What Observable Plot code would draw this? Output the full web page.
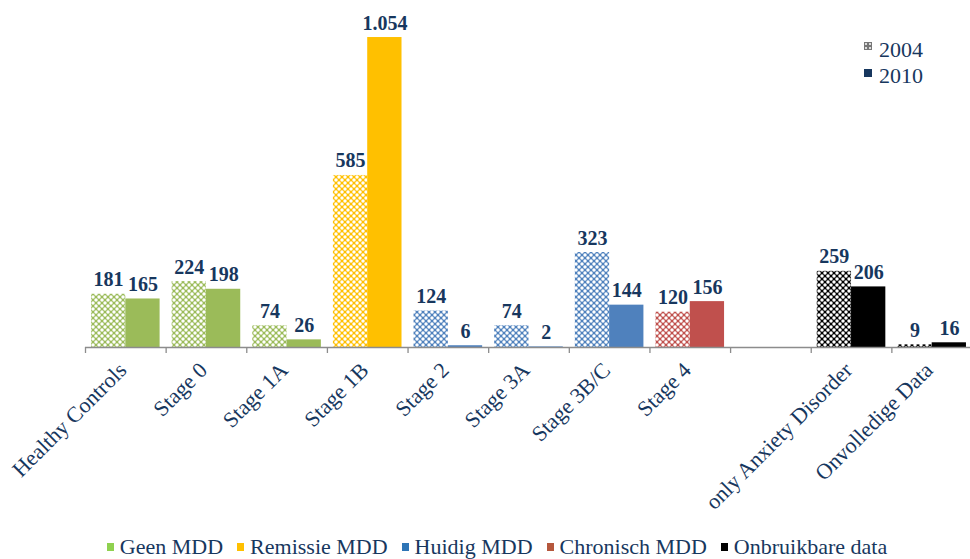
<!DOCTYPE html>
<html><head><meta charset="utf-8">
<script src="https://cdn.jsdelivr.net/npm/d3@7"></script>
<script src="https://cdn.jsdelivr.net/npm/@observablehq/plot@0.6"></script>
<style>
body{margin:0;background:#fff;font-family:"Liberation Serif",serif;}
#wrap{position:relative;width:970px;height:559px;overflow:hidden;}
#legend{position:absolute;left:12px;top:534px;width:970px;height:26px;display:flex;justify-content:center;align-items:center;gap:14px;font-size:22px;color:#17375e;}
#legend .it{display:flex;align-items:center;gap:6px;white-space:nowrap;}
#legend .mk{display:inline-block;width:7px;height:8px;}
#years{position:absolute;left:864px;top:37px;font-size:22px;color:#17375e;line-height:26px;}
#years .row{display:flex;align-items:center;gap:7px;}
</style></head>
<body><div id="wrap"><div id="chart"></div><div id="years"></div><div id="legend"></div></div>
<script>
const categories = ["Healthy Controls","Stage 0","Stage 1A","Stage 1B","Stage 2","Stage 3A","Stage 3B/C","Stage 4","","only Anxiety Disorder","Onvolledige Data"];
const values2004 = [181,224,74,585,124,74,323,120,null,259,9];
const values2010 = [165,198,26,1054,6,2,144,156,null,206,16];
const groups = ["Geen MDD","Geen MDD","Geen MDD","Remissie MDD","Huidig MDD","Huidig MDD","Huidig MDD","Chronisch MDD",null,"Onbruikbare data","Onbruikbare data"];
const groupNames = ["Geen MDD","Remissie MDD","Huidig MDD","Chronisch MDD","Onbruikbare data"];
const groupColors = ["#9BBB59","#FFC000","#4F81BD","#C0504D","#000000"];
const legendColors = ["#8FD14F","#FFC000","#2E75B6","#B5573C","#000000"];
const years = ["2004","2010"];

const nl = d3.formatLocale({decimal:",",thousands:".",grouping:[3],currency:["€",""]});
const fmt = nl.format(",");
const rows = categories.map((c,i)=>({cat:c, v2004:values2004[i], v2010:values2010[i], g:groupNames.indexOf(groups[i])}));
const navy = "#17375e";
const bw = 887/11;

const chart = Plot.plot({
  width:970, height:530, marginLeft:85, marginRight:0, marginTop:0, marginBottom:0,
  x:{domain:categories, range:[85,972], padding:0, round:false, axis:null},
  y:{domain:[0,1100], range:[347,23.5], axis:null},
  color:{type:"identity"},
  style:{fontFamily:"Liberation Serif, serif"},
  marks:[
    Plot.barY(rows.filter(d=>d.v2004!=null), {x:"cat", y:"v2004", fill:d=>`url(#pat${d.g})`, insetLeft:6, insetRight:bw-6-34.3}),
    Plot.barY(rows.filter(d=>d.v2010!=null), {x:"cat", y:"v2010", fill:d=>groupColors[d.g], insetLeft:6+34.3, insetRight:bw-6-2*34.3}),
    Plot.ruleY([0], {stroke:"#8c8c8c", strokeWidth:1.3}),
    Plot.ruleX(categories, {x:d=>d, y1:0, y2:0, dx:-bw/2, insetTop:6, stroke:"#8c8c8c", strokeWidth:1.3}),
    Plot.text(rows.filter(d=>d.v2004!=null), {x:"cat", y:"v2004", text:d=>fmt(d.v2004), dx:-17.2, dy:-8, lineAnchor:"bottom", fontSize:20, fontWeight:"bold", fill:navy}),
    Plot.text(rows.filter(d=>d.v2010!=null), {x:"cat", y:"v2010", text:d=>fmt(d.v2010), dx:17.2, dy:-8, lineAnchor:"bottom", fontSize:20, fontWeight:"bold", fill:navy}),
    Plot.text(categories, {x:d=>d, y:()=>0, text:d=>d, rotate:-45, textAnchor:"end", lineAnchor:"top", dx:-9, dy:13, fontSize:22, fill:navy})
  ]
});
const svg = chart.tagName.toLowerCase()==="svg" ? chart : chart.querySelector("svg");
const defs = d3.select(svg).insert("defs", ":first-child");
groupColors.forEach((c,i)=>{
  const p = defs.append("pattern").attr("id","pat"+i).attr("patternUnits","userSpaceOnUse").attr("width",6).attr("height",6);
  p.append("rect").attr("width",6).attr("height",6).attr("fill",c);
  [[0,0],[6,0],[0,6],[6,6],[3,3]].forEach(([x,y])=>p.append("circle").attr("cx",x).attr("cy",y).attr("r",1.75).attr("fill","#fff"));
});
document.getElementById("chart").appendChild(chart);

// year legend
const yl = document.getElementById("years");
years.forEach((y,i)=>{
  const r = document.createElement("div"); r.className="row";
  const m = i===0
    ? `<svg width="8" height="8" style="margin-top:-9px"><defs><pattern id="lp" patternUnits="userSpaceOnUse" width="4" height="4"><rect width="4" height="4" fill="#777"/><circle cx="2" cy="2" r="1" fill="#fff"/></pattern></defs><rect width="8" height="8" fill="url(#lp)"/></svg>`
    : `<svg width="8" height="8" style="margin-top:-6px"><rect width="8" height="8" fill="${navy}"/></svg>`;
  r.innerHTML = m + `<span>${y}</span>`;
  yl.appendChild(r);
});
// group legend
const lg = document.getElementById("legend");
groupNames.forEach((n,i)=>{
  const it = document.createElement("span"); it.className="it";
  it.innerHTML = `<span class="mk" style="background:${legendColors[i]}"></span><span>${n}</span>`;
  lg.appendChild(it);
});
</script></body></html>
